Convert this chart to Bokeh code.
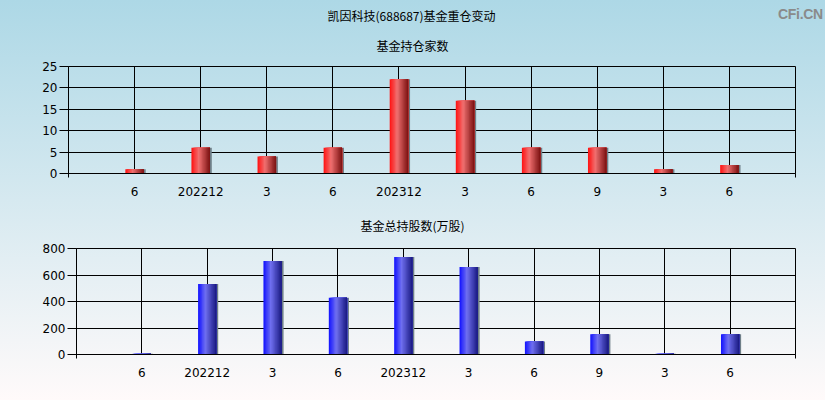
from bokeh.plotting import figure
from bokeh.layouts import column
from bokeh.models import ColumnDataSource, FixedTicker, Title, Div
from bokeh.transform import dodge
from bokeh.embed import file_html
from bokeh.resources import INLINE

# Reporting periods (x-axis labels) and the two series
periods = ["6", "202212", "3", "6", "202312", "3", "6", "9", "3", "6"]
fund_count = [1, 6, 4, 6, 22, 17, 6, 6, 1, 2]          # 基金持仓家数
fund_shares = [5, 533, 705, 428, 735, 660, 99, 152, 5, 152]  # 基金总持股数(万股)

CJK_FONT = "Noto Sans CJK SC"
NUM_FONT = "DejaVu Sans"


def lerp(c1, c2, t):
    return "#%02x%02x%02x" % tuple(int(round(a + (b - a) * t)) for a, b in zip(c1, c2))


def bar_shades(left, mid, right, n=14, peak=0.4):
    cols = []
    for i in range(n):
        t = (i + 0.5) / n
        if t < peak:
            cols.append(lerp(left, mid, t / peak))
        else:
            cols.append(lerp(mid, right, (t - peak) / (1 - peak)))
    return cols


def style_title(t, offset, standoff):
    t.align = "left"
    t.offset = offset
    t.standoff = standoff
    t.text_font = CJK_FONT
    t.text_font_size = "12px"
    t.text_font_style = "normal"
    t.text_color = "black"


def make_panel(values, title, y_end, y_step, border_top, border_left, shades, height,
               title_offset, title_standoff, subtitle=None, subtitle_offset=0):
    x = list(range(1, len(values) + 1))
    src = ColumnDataSource(data=dict(x=x, top=values))

    p = figure(width=825, height=height, x_range=(0, len(values) + 1), y_range=(0, y_end),
               output_backend="svg", toolbar_location=None, tools="",
               min_border_left=border_left, min_border_right=30,
               min_border_top=border_top, min_border_bottom=height - border_top - 107)
    p.frame_align = False
    p.border_fill_alpha = 0
    p.background_fill_alpha = 0
    p.outline_line_color = "black"
    p.outline_line_width = 1

    p.title.text = title
    style_title(p.title, title_offset, title_standoff)

    if subtitle is not None:
        t = Title(text=subtitle)
        style_title(t, subtitle_offset, 26)
        p.add_layout(t, "above")

    # x axis: category labels, small ticks only at the two ends
    p.xaxis.ticker = FixedTicker(ticks=x, minor_ticks=[0, len(values) + 1])
    p.xaxis.major_label_overrides = {i: lab for i, lab in zip(x, periods)}
    p.xaxis.major_tick_out = 0
    p.xaxis.major_tick_in = 0
    p.xaxis.minor_tick_out = 4
    p.xaxis.minor_tick_in = 0
    p.xaxis.major_label_standoff = 9

    p.yaxis.ticker = FixedTicker(ticks=list(range(0, y_end + 1, y_step)))
    p.yaxis.major_tick_out = 9
    p.yaxis.major_tick_in = 0
    p.yaxis.minor_tick_out = 0
    p.yaxis.minor_tick_in = 0
    p.yaxis.major_label_standoff = 2

    for ax in (p.xaxis, p.yaxis):
        ax.axis_line_color = "black"
        ax.major_tick_line_color = "black"
        ax.minor_tick_line_color = "black"
        ax.major_label_text_font = NUM_FONT
        ax.major_label_text_font_size = "12px"
        ax.major_label_text_color = "black"

    p.xgrid.grid_line_color = "black"
    p.ygrid.grid_line_color = "black"
    p.xgrid.grid_line_alpha = 1
    p.ygrid.grid_line_alpha = 1

    # shaded bar: layered strips from each slice's left edge to the right edge,
    # so later (darker) strips cover earlier ones without seams
    body_w = 0.28
    n = len(shades)
    sw = body_w / n
    p.vbar(x=dodge("x", body_w / 2 + 0.013, range=p.x_range), top="top", bottom=0,
           width=0.03, fill_color="#6f7f88", line_color=None, source=src)
    for i, c in enumerate(shades):
        w = body_w - i * sw
        off = body_w / 2 - w / 2
        p.vbar(x=dodge("x", off, range=p.x_range), top="top", bottom=0, width=w,
               fill_color=c, line_color=None, source=src)
    return p


red = bar_shades((255, 16, 16), (240, 112, 112), (122, 16, 16))
blue = bar_shades((16, 16, 255), (112, 112, 240), (24, 24, 128))

p1 = make_panel(fund_count, "凯因科技(688687)基金重仓变动", 25, 5, 66, 68, red, 200,
                title_offset=259, title_standoff=-4,
                subtitle="基金持仓家数", subtitle_offset=308)
p2 = make_panel(fund_shares, "基金总持股数(万股)", 800, 200, 47, 76, blue, 200,
                title_offset=284, title_standoff=29)

mark = Div(text="CFi.CN", width=60, height=20,
           styles={"position": "absolute", "top": "-1px", "left": "773px",
                   "font-family": "Liberation Sans", "font-size": "14px",
                   "font-weight": "bold", "letter-spacing": "-0.3px",
                   "line-height": "20px", "color": "#8a8a8a", "white-space": "nowrap"})

layout = column(p1, p2, mark, spacing=0,
                styles={"position": "relative",
                        "background": "linear-gradient(to bottom, #add8e6 0%, #d6e9f0 50%, #fffafa 100%)"})

open("out.html", "w").write(file_html(layout, INLINE))
